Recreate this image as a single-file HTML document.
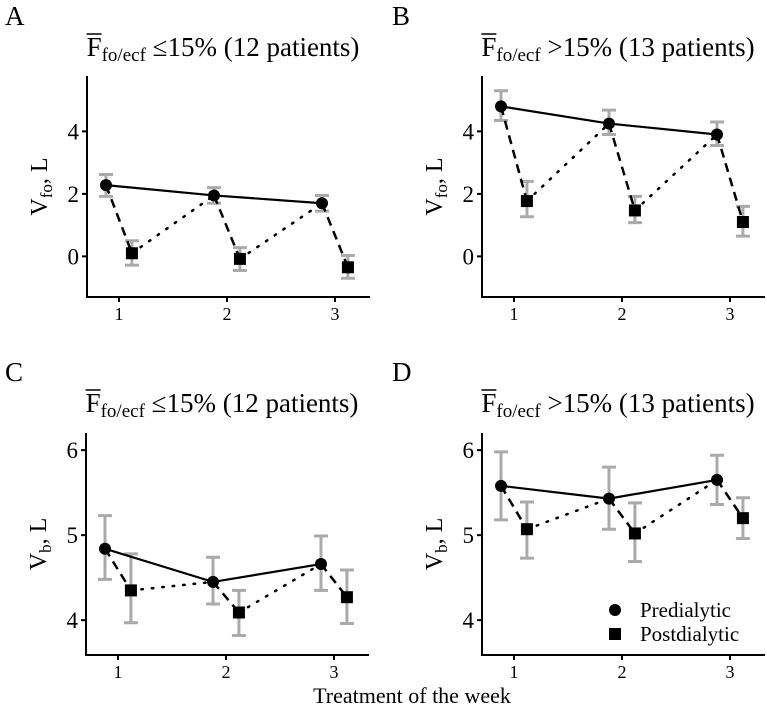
<!DOCTYPE html>
<html><head><meta charset="utf-8"><style>
html,body{margin:0;padding:0;background:#fff;}
svg{display:block;font-family:"Liberation Serif",serif;}
</style></head><body>
<svg id="chart" width="767" height="708" viewBox="0 0 767 708"></svg>
<script>
const treatments=[1,2,3];
const preA=[2.28,1.95,1.70], preAlo=[1.92,1.70,1.45], preAhi=[2.62,2.20,1.95];
const postA=[0.10,-0.08,-0.35], postAlo=[-0.28,-0.45,-0.70], postAhi=[0.50,0.28,0.03];
const preB=[4.80,4.25,3.90], preBlo=[4.35,3.90,3.55], preBhi=[5.30,4.68,4.30];
const postB=[1.77,1.47,1.10], postBlo=[1.27,1.08,0.65], postBhi=[2.40,1.92,1.60];
const preC=[4.84,4.45,4.66], preClo=[4.48,4.19,4.35], preChi=[5.23,4.74,4.99];
const postC=[4.35,4.09,4.27], postClo=[3.97,3.82,3.96], postChi=[4.78,4.35,4.59];
const preD=[5.58,5.43,5.65], preDlo=[5.18,5.07,5.36], preDhi=[5.98,5.80,5.94];
const postD=[5.07,5.02,5.20], postDlo=[4.73,4.69,4.96], postDhi=[5.39,5.38,5.44];
const ticksTop=[0,2,4], ticksBot=[4,5,6];

const svg=document.getElementById('chart');
const NS='http://www.w3.org/2000/svg';
function mk(tag,attrs,parent){const e=document.createElementNS(NS,tag);for(const k in attrs)e.setAttribute(k,attrs[k]);(parent||svg).appendChild(e);return e;}

function panel(o){
  const g=mk('g',{});
  
  
  const xs=v=>o.x0+(v-0.704)*108;
  const ys=v=>o.yb-(v-o.ymin)*o.ppu;
  const lt=mk('text',{x:o.lx,y:o.ty-25,'font-size':27},g);lt.textContent=o.letter;
  
  const t=mk('text',{x:o.x0+136,y:o.ty+6,'font-size':27,'text-anchor':'middle'},g);
  
  t.innerHTML='F<tspan dy="5" font-size="19">fo/ecf</tspan><tspan dy="-5"> '+o.cmp+'15% ('+o.n+' patients)</tspan>';
  const s0=t.getStartPositionOfChar(0).x, e0=t.getEndPositionOfChar(0).x;
  mk('line',{x1:s0,y1:o.ty-16,x2:e0,y2:o.ty-16,stroke:'#000','stroke-width':1.5},g);
  const ax=mk('path',{d:`M${o.x0},${o.yt}V${o.yb}H${o.x0+283}`,fill:'none',stroke:'#000','stroke-width':2},g);
  
  o.ticks.forEach(v=>{mk('line',{x1:o.x0-5,x2:o.x0,y1:ys(v),y2:ys(v),stroke:'#000','stroke-width':2},g);
    const tl=mk('text',{x:o.x0-8,y:ys(v)+8,'font-size':23,'text-anchor':'end'},g);tl.textContent=v;
    });
  treatments.forEach(v=>{mk('line',{x1:xs(v),x2:xs(v),y1:o.yb,y2:o.yb+5,stroke:'#000','stroke-width':2},g);
    const tl=mk('text',{x:xs(v),y:o.yb+23,'font-size':18,'text-anchor':'middle'},g);tl.textContent=v;
    });
  const yl=mk('text',{transform:`translate(${o.x0-40},${(o.yt+o.yb)/2}) rotate(-90)`,'font-size':24,'text-anchor':'middle'},g);
  
  yl.innerHTML='V<tspan dy="5" font-size="17">'+o.sub+'</tspan><tspan dy="-5">, L</tspan>';
  const eb=(x,lo,hi)=>{const e=mk('path',{d:`M${x-7},${ys(hi)}H${x+7}M${x},${ys(hi)}V${ys(lo)}M${x-7},${ys(lo)}H${x+7}`,stroke:'#aaa','stroke-width':3,fill:'none'},g);
    };
  treatments.forEach((v,i)=>{eb(xs(v-0.12),o.prelo[i],o.prehi[i]);eb(xs(v+0.12),o.postlo[i],o.posthi[i]);});
  let d='';treatments.forEach((v,i)=>{d+=(i?'L':'M')+xs(v-0.12)+','+ys(o.pre[i]);});
  const pl=mk('path',{d,fill:'none',stroke:'#000','stroke-width':2.2},g);
  
  treatments.forEach((v,i)=>{
    const dl=mk('line',{x1:xs(v-0.12),y1:ys(o.pre[i]),x2:xs(v+0.12),y2:ys(o.post[i]),stroke:'#000','stroke-width':2.5,'stroke-dasharray':'9,6'},g);
    
    if(i<2){const dt=mk('line',{x1:xs(v+0.12),y1:ys(o.post[i]),x2:xs(treatments[i+1]-0.12),y2:ys(o.pre[i+1]),stroke:'#000','stroke-width':2.5,'stroke-dasharray':'1.5,9','stroke-linecap':'round'},g);
      }
  });
  treatments.forEach((v,i)=>{
    const c=mk('circle',{cx:xs(v-0.12),cy:ys(o.pre[i]),r:6,fill:'#000'},g);
    
    const s=mk('rect',{x:xs(v+0.12)-6,y:ys(o.post[i])-6,width:12,height:12,fill:'#000'},g);
    
  });
}
panel({letter:'A',lx:5,ty:50,x0:87,yt:76,yb:297,ymin:-1.3,ppu:31.25,ticks:ticksTop,sub:'fo',cmp:'≤',n:12,pre:preA,prelo:preAlo,prehi:preAhi,post:postA,postlo:postAlo,posthi:postAhi});
panel({letter:'B',lx:392,ty:50,x0:482,yt:76,yb:297,ymin:-1.3,ppu:31.25,ticks:ticksTop,sub:'fo',cmp:'>',n:13,pre:preB,prelo:preBlo,prehi:preBhi,post:postB,postlo:postBlo,posthi:postBhi});
panel({letter:'C',lx:5,ty:406,x0:86,yt:433,yb:655,ymin:3.59,ppu:85,ticks:ticksBot,sub:'b',cmp:'≤',n:12,pre:preC,prelo:preClo,prehi:preChi,post:postC,postlo:postClo,posthi:postChi});
panel({letter:'D',lx:392,ty:406,x0:482,yt:433,yb:655,ymin:3.59,ppu:85,ticks:ticksBot,sub:'b',cmp:'>',n:13,pre:preD,prelo:preDlo,prehi:preDhi,post:postD,postlo:postDlo,posthi:postDhi});
</script>
<div style="position:absolute;left:0;top:0;width:767px;height:708px;pointer-events:none;">
<svg width="767" height="708" style="position:absolute;left:0;top:0">
<g font-family="Liberation Serif, serif" font-size="21">
<circle cx="615" cy="610" r="6" fill="#000"/>
<text x="640" y="617">Predialytic</text>
<rect x="609" y="628" width="12" height="12" fill="#000"/>
<text x="640" y="641">Postdialytic</text>
</g>
<text x="412" y="703" font-family="Liberation Serif, serif" font-size="22" text-anchor="middle">Treatment of the week</text>
</svg>
</div>
</body></html>
